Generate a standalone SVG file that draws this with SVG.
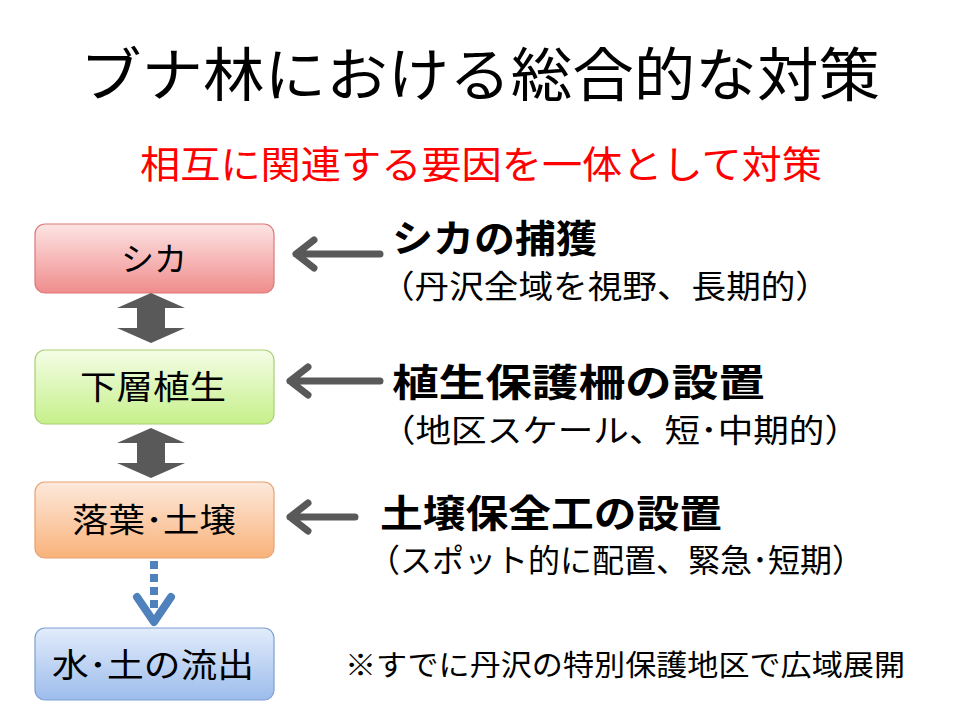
<svg xmlns="http://www.w3.org/2000/svg" width="960" height="720" viewBox="0 0 960 720">
<style>
text{font-family:"Noto Sans CJK JP","Noto Sans",sans-serif;fill:#000}
.box{stroke-width:1.2}
.lbl{font-size:33px;text-anchor:middle}
.h{font-size:38px;font-weight:bold}
.s{font-size:32px}
.ga{stroke:#595959;stroke-width:7;fill:none;stroke-linecap:round;stroke-linejoin:round}
</style>
<defs>
<linearGradient id="gr" x1="0" y1="0" x2="0" y2="1"><stop offset="0" stop-color="#fde4e4"/><stop offset="1" stop-color="#f08c8c"/></linearGradient>
<linearGradient id="gg" x1="0" y1="0" x2="0" y2="1"><stop offset="0" stop-color="#f4fde6"/><stop offset="1" stop-color="#c6f08a"/></linearGradient>
<linearGradient id="go" x1="0" y1="0" x2="0" y2="1"><stop offset="0" stop-color="#fde9dc"/><stop offset="1" stop-color="#f9b27a"/></linearGradient>
<linearGradient id="gb" x1="0" y1="0" x2="0" y2="1"><stop offset="0" stop-color="#e2ecfb"/><stop offset="1" stop-color="#9dbcec"/></linearGradient>
</defs>
<rect width="960" height="720" fill="#fff"/>
<text x="80" y="96" font-size="58" textLength="800" lengthAdjust="spacingAndGlyphs">ブナ林における総合的な対策</text>
<text x="140" y="178" font-size="38" style="fill:#ff0000" textLength="682" lengthAdjust="spacingAndGlyphs">相互に関連する要因を一体として対策</text>
<g id="n1"><rect class="box" x="35" y="224" width="239" height="69" rx="10" fill="url(#gr)" stroke="#d77"/><text class="lbl" x="154" y="271">シカ</text></g>
<g id="n2"><rect class="box" x="35" y="350" width="239" height="74" rx="10" fill="url(#gg)" stroke="#a7d070"/><text class="lbl" x="80" y="399" textLength="146" lengthAdjust="spacingAndGlyphs" style="text-anchor:start">下層植生</text></g>
<g id="n3"><rect class="box" x="35" y="482" width="239" height="76" rx="10" fill="url(#go)" stroke="#e9a070"/><text class="lbl" x="72" y="532" textLength="164" lengthAdjust="spacingAndGlyphs" style="text-anchor:start">落葉･土壌</text></g>
<g id="n4"><rect class="box" x="35" y="628" width="239" height="72" rx="10" fill="url(#gb)" stroke="#7c9fd4"/><text class="lbl" x="52" y="677" textLength="202" lengthAdjust="spacingAndGlyphs" style="text-anchor:start">水･土の流出</text></g>
<g id="connectors">
<polygon points="151,293 185,308 165,308 165,328 185,328 151,343 117,328 137,328 137,308 117,308" fill="#595959"/>
<polygon points="151,428 185,443 165,443 165,463 185,463 151,478 117,463 137,463 137,443 117,443" fill="#595959"/>
<line x1="154" y1="561" x2="154" y2="612" stroke="#4f81bd" stroke-width="8" stroke-dasharray="8,5"/>
<polyline points="137,597 154,622 171,597" stroke="#4f81bd" stroke-width="8" fill="none" stroke-linecap="round" stroke-linejoin="round"/>
<path class="ga" d="M380,254 H296 M314,240 L296,254 L314,268"/>
<path class="ga" d="M380,381 H290 M308,367 L290,381 L308,395"/>
<path class="ga" d="M355,517 H290 M308,503 L290,517 L308,531"/>
</g>
<g id="t1"><text class="h" x="392" y="252" textLength="205" lengthAdjust="spacingAndGlyphs">シカの捕獲</text><text class="s" x="380" y="298" textLength="450" lengthAdjust="spacingAndGlyphs">（丹沢全域を視野、長期的）</text></g>
<g id="t2"><text class="h" x="392" y="396" textLength="373" lengthAdjust="spacingAndGlyphs">植生保護柵の設置</text><text class="s" x="380" y="442" textLength="480" lengthAdjust="spacingAndGlyphs">（地区スケール、短･中期的）</text></g>
<g id="t3"><text class="h" x="380" y="527" textLength="342" lengthAdjust="spacingAndGlyphs">土壌保全工の設置</text><text class="s" x="368" y="572" textLength="496" lengthAdjust="spacingAndGlyphs">（スポット的に配置、緊急･短期）</text></g>
<text x="345" y="676" font-size="29" textLength="560" lengthAdjust="spacingAndGlyphs">※すでに丹沢の特別保護地区で広域展開</text>
</svg>
